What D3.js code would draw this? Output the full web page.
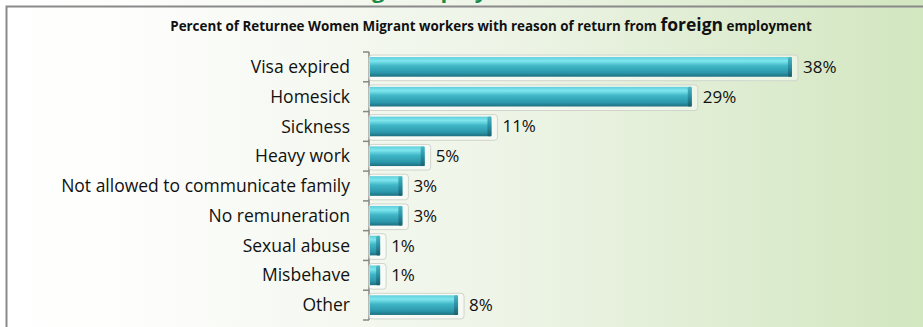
<!DOCTYPE html>
<html>
<head>
<meta charset="utf-8">
<script src="https://cdn.jsdelivr.net/npm/d3@7"></script>
<style>
  html, body { margin: 0; padding: 0; }
  body { width: 923px; height: 327px; overflow: hidden; }
  svg { display: block; }
</style>
</head>
<body>
<svg id="chart" width="923" height="327"></svg>
<script>
// reasons of return, top to bottom
var reasons = ["Visa expired", "Homesick", "Sickness", "Heavy work",
  "Not allowed to communicate family", "No remuneration", "Sexual abuse", "Misbehave", "Other"];
var percents = [38, 29, 11, 5, 3, 3, 1, 1, 8];

var width = 923, height = 327;
var fontFam = "'Open Sans', sans-serif";
var svg = d3.select("#chart");
var defs = svg.append("defs");

// page background, white on the left fading to pale green
var bg = defs.append("linearGradient").attr("id", "bg").attr("x1", 0).attr("x2", 1).attr("y1", 0).attr("y2", 0);
bg.append("stop").attr("offset", "0").attr("stop-color", "#ffffff");
bg.append("stop").attr("offset", "0.15").attr("stop-color", "#fdfdfc");
bg.append("stop").attr("offset", "0.55").attr("stop-color", "#edf4e6");
bg.append("stop").attr("offset", "1").attr("stop-color", "#d2e6c0");

var barGrad = defs.append("linearGradient").attr("id", "bar").attr("x1", 0).attr("x2", 0).attr("y1", 0).attr("y2", 1);
barGrad.append("stop").attr("offset", "0").attr("stop-color", "#5fcfdc");
barGrad.append("stop").attr("offset", "0.2").attr("stop-color", "#7fe6ee");
barGrad.append("stop").attr("offset", "0.45").attr("stop-color", "#3fb6c6");
barGrad.append("stop").attr("offset", "0.8").attr("stop-color", "#2b97aa");
barGrad.append("stop").attr("offset", "1").attr("stop-color", "#1d6f80");

var capGrad = defs.append("linearGradient").attr("id", "cap").attr("x1", 0).attr("x2", 0).attr("y1", 0).attr("y2", 1);
capGrad.append("stop").attr("offset", "0").attr("stop-color", "#4bb6c4");
capGrad.append("stop").attr("offset", "0.5").attr("stop-color", "#2a8fa2");
capGrad.append("stop").attr("offset", "1").attr("stop-color", "#1a5f6e");

svg.append("rect").attr("width", width).attr("height", height).attr("fill", "url(#bg)");

// slide heading, mostly cut off by the top edge
svg.append("text")
  .attr("x", 399).attr("y", -2)
  .attr("text-anchor", "end")
  .attr("font-family", fontFam).attr("font-weight", "bold").attr("font-size", 22)
  .attr("fill", "#1e8a4a")
  .text("Reason of return from foreign");
svg.append("text")
  .attr("x", 406).attr("y", -2)
  .attr("font-family", fontFam).attr("font-weight", "bold").attr("font-size", 22)
  .attr("fill", "#1e8a4a")
  .text("employment");

// chart frame
svg.append("path")
  .attr("d", "M6.5," + height + "V6.5H" + (width + 2))
  .attr("fill", "none").attr("stroke", "#8a8a8a").attr("stroke-width", 2);

// chart title
var title = svg.append("text")
  .attr("x", 491).attr("y", 31)
  .attr("text-anchor", "middle")
  .attr("font-family", fontFam).attr("font-weight", "bold").attr("font-size", 13.4)
  .attr("fill", "#111");
title.append("tspan").text("Percent of Returnee Women Migrant workers with reason of return from ");
title.append("tspan").attr("font-size", 17.5).text("foreign");
title.append("tspan").text(" employment");

var x = d3.scaleLinear().domain([0, 45]).range([369, 369 + 45 * 11.13]);
var y = d3.scaleBand().domain(reasons).range([52, 320]).paddingInner(0.34).paddingOuter(0.17);

// axis
var axisG = svg.append("g").attr("transform", "translate(369,0)");
axisG.append("line").attr("x1", 0).attr("x2", 0).attr("y1", 52).attr("y2", 320)
  .attr("stroke", "#868686").attr("stroke-width", 1.5);
var tickYs = d3.range(reasons.length + 1).map(function (i) { return 52 + i * y.step(); });
axisG.selectAll("line.tick").data(tickYs).enter().append("line")
  .attr("class", "tick")
  .attr("x1", -6).attr("x2", 0)
  .attr("y1", function (d) { return d; }).attr("y2", function (d) { return d; })
  .attr("stroke", "#868686").attr("stroke-width", 1.5);

svg.selectAll("text.cat").data(reasons).enter().append("text")
  .attr("class", "cat")
  .attr("x", 350)
  .attr("y", function (d) { return y(d) + y.bandwidth() / 2; })
  .attr("dy", "0.35em")
  .attr("text-anchor", "end")
  .attr("font-family", fontFam).attr("font-size", 17.5)
  .attr("fill", "#111")
  .text(function (d) { return d; });

var rows = reasons.map(function (r, i) { return { name: r, value: percents[i] }; });

// reflection / shadow outline behind each bar
svg.selectAll("rect.shadow").data(rows).enter().append("rect")
  .attr("class", "shadow")
  .attr("x", x(0))
  .attr("y", function (d) { return y(d.name) - 2; })
  .attr("width", function (d) { return x(d.value) - x(0) + 6; })
  .attr("height", y.bandwidth() + 6)
  .attr("rx", 3)
  .attr("fill", "#ffffff").attr("fill-opacity", 0.45)
  .attr("stroke", "#cfd5cc").attr("stroke-width", 1);

svg.selectAll("rect.bar").data(rows).enter().append("rect")
  .attr("class", "bar")
  .attr("x", x(0) + 1)
  .attr("y", function (d) { return y(d.name); })
  .attr("width", function (d) { return x(d.value) - x(0) - 1; })
  .attr("height", y.bandwidth())
  .attr("fill", "url(#bar)");

// darker rounded end cap
svg.selectAll("rect.cap").data(rows).enter().append("rect")
  .attr("class", "cap")
  .attr("x", function (d) { return x(d.value) - 4; })
  .attr("y", function (d) { return y(d.name); })
  .attr("width", 4)
  .attr("height", y.bandwidth())
  .attr("rx", 1.5)
  .attr("fill", "url(#cap)");

svg.selectAll("text.val").data(rows).enter().append("text")
  .attr("class", "val")
  .attr("x", function (d) { return x(d.value) + 11; })
  .attr("y", function (d) { return y(d.name) + y.bandwidth() / 2; })
  .attr("dy", "0.35em")
  .attr("font-family", fontFam).attr("font-size", 17)
  .attr("fill", "#111")
  .text(function (d) { return d.value + "%"; });
</script>
</body>
</html>
